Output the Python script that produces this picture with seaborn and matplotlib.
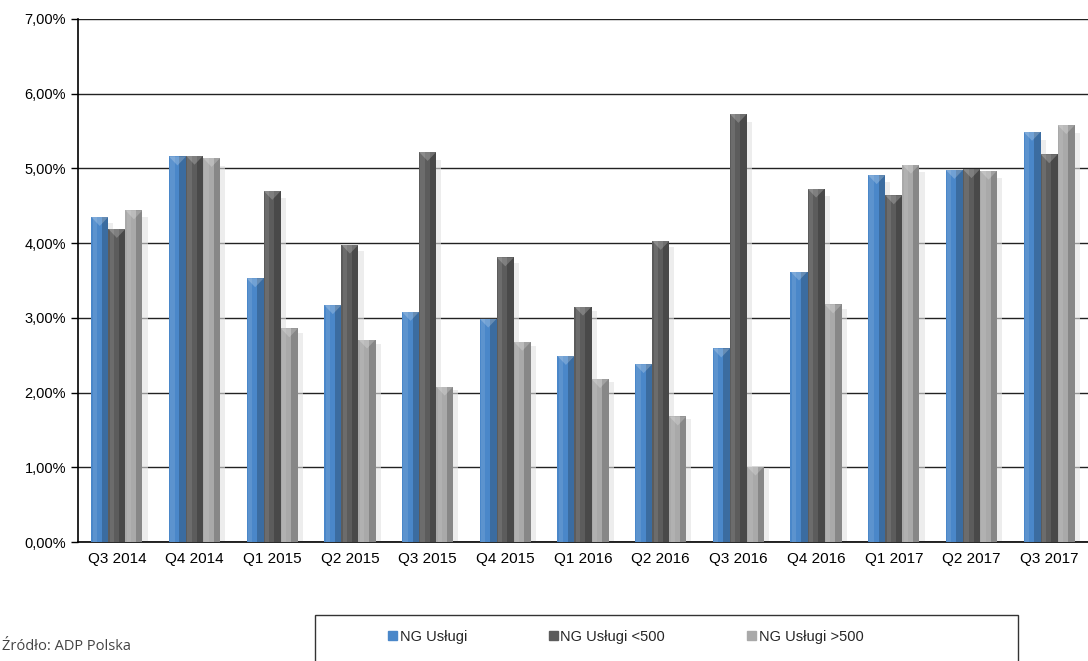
import numpy as np
import pandas as pd
import matplotlib
matplotlib.use("Agg")
import matplotlib.pyplot as plt
import matplotlib.patches as mpatches
from matplotlib.ticker import FuncFormatter, FixedLocator
import seaborn as sns

# Dane
kwartaly = ["Q3 2014", "Q4 2014", "Q1 2015", "Q2 2015", "Q3 2015", "Q4 2015", "Q1 2016",
            "Q2 2016", "Q3 2016", "Q4 2016", "Q1 2017", "Q2 2017", "Q3 2017"]
serie = ["NG Usługi", "NG Usługi <500", "NG Usługi >500"]
ng_uslugi = [4.35, 5.16, 3.53, 3.17, 3.08, 2.99, 2.49, 2.38, 2.59, 3.62, 4.91, 4.98, 5.49]
ng_uslugi_mniej500 = [4.19, 5.17, 4.70, 3.98, 5.22, 3.81, 3.15, 4.03, 5.73, 4.73, 4.64, 4.99, 5.19]
ng_uslugi_wiecej500 = [4.44, 5.14, 2.86, 2.71, 2.08, 2.68, 2.18, 1.68, 1.01, 3.18, 5.05, 4.97, 5.58]
kolory = ["#4a87c9", "#5c5c5c", "#a9a9a9"]

df = pd.DataFrame({
    "kwartal": kwartaly * 3,
    "seria": [serie[0]] * 13 + [serie[1]] * 13 + [serie[2]] * 13,
    "wartosc": ng_uslugi + ng_uslugi_mniej500 + ng_uslugi_wiecej500,
})

sns.set_style("white")
plt.rcParams["font.family"] = ["Liberation Sans", "DejaVu Sans"]

fig = plt.figure(figsize=(10.88, 6.61), dpi=100)
ax = fig.add_axes([78 / 1088, 1 - 542 / 661, 1 - 78 / 1088, (542 - 19) / 661])

sns.barplot(data=df, x="kwartal", y="wartosc", hue="seria", palette=kolory,
            width=0.66, gap=0, saturation=1, legend=False, ax=ax, zorder=3,
            linewidth=0)

# efekt 3D: cien i ciemniejsza prawa strona slupka
for p in list(ax.patches):
    x0, w, h = p.get_x(), p.get_width(), p.get_height()
    ax.add_patch(mpatches.Rectangle((x0 + w, 0), w * 0.3, h * 0.98, color="#e2e2e2",
                                    alpha=0.6, zorder=2, lw=0))
    ax.add_patch(mpatches.Rectangle((x0 + w * 0.62, 0), w * 0.38, h, color="black",
                                    alpha=0.2, zorder=4, lw=0))
    ax.add_patch(mpatches.Rectangle((x0 + w * 0.08, 0), w * 0.25, h, color="white",
                                    alpha=0.10, zorder=4, lw=0))
    ax.add_patch(mpatches.Polygon([(x0, h), (x0 + w, h), (x0 + w / 2, h - 0.12)],
                                  closed=True, color="white", alpha=0.22, zorder=5, lw=0))

ax.set_xlim(-0.5, 12.5)
ax.set_ylim(0, 7)
ax.yaxis.set_major_locator(FixedLocator(np.arange(0, 7.01, 1)))
ax.yaxis.set_major_formatter(FuncFormatter(lambda v, _: f"{v:.2f}%".replace(".", ",")))
ax.yaxis.grid(True, color="#222222", linewidth=1.0, zorder=0)
ax.set_axisbelow(True)

ax.set_xlabel("")
ax.set_ylabel("")
ax.tick_params(axis="x", length=0, labelsize=11, pad=7, colors="black")
ax.set_xticks(np.arange(-0.5, 12.6, 1), minor=True)
ax.tick_params(axis="x", which="minor", length=5, width=1, color="black", direction="out")
ax.tick_params(axis="y", length=5, width=1, labelsize=10.5, colors="black", direction="out", left=True)

for s in ["top", "right"]:
    ax.spines[s].set_visible(False)
ax.spines["left"].set_color("black")
ax.spines["left"].set_linewidth(1.2)
ax.spines["bottom"].set_color("black")
ax.spines["bottom"].set_linewidth(1.2)

# legenda w ramce
uchwyty = [mpatches.Patch(color=c, label=s) for c, s in zip(kolory, serie)]
fig.patches.append(mpatches.Rectangle((315 / 1088, -0.05), 703 / 1088, (661 - 615) / 661 + 0.05,
                                      transform=fig.transFigure, fill=False,
                                      edgecolor="#333333", linewidth=1))
fig.legend(handles=uchwyty, loc="center left", bbox_to_anchor=(375 / 1088, 1 - 637 / 661),
           ncol=3, frameon=False, fontsize=10.5, handlelength=0.6, handleheight=0.6,
           handletextpad=0.2, columnspacing=5.6)

fig.text(0.002, 1 - 647 / 661, "Źródło: ADP Polska", fontsize=10.5, color="#444444",
         family=["Open Sans", "DejaVu Sans"], va="center", ha="left")

fig.savefig("out.png", dpi=100)
